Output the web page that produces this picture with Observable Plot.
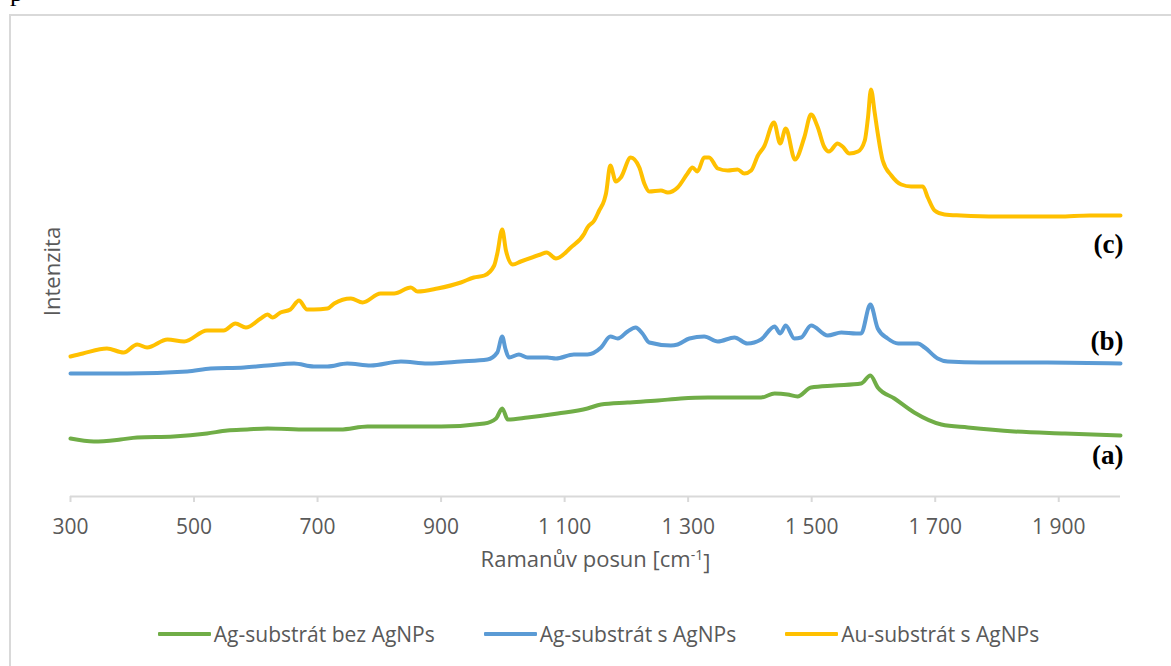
<!DOCTYPE html>
<html>
<head>
<meta charset="utf-8">
<script src="https://cdn.jsdelivr.net/npm/d3@7"></script>
<script src="https://cdn.jsdelivr.net/npm/@observablehq/plot@0.6"></script>
<style>
  html, body { margin: 0; padding: 0; background: #fff; overflow: hidden; }
  body { width: 1171px; height: 666px; position: relative; font-family: "Open Sans", sans-serif; }
  #frame { position: absolute; left: 9px; top: 14px; width: 1400px; height: 900px; border: 2px solid #d9d9d9; box-sizing: border-box; }
  #pchar { position: absolute; left: 10px; top: -20px; font-family: "Liberation Serif", serif; font-size: 26px; color: #000; line-height: 26px; }
  #chart { position: absolute; left: 0; top: 0; }
  #legend { position: absolute; left: 0; top: 620px; width: 1171px; padding-left: 26px; box-sizing: border-box;
            display: flex; justify-content: center; align-items: center; gap: 49px;
            font-size: 21px; color: #595959; line-height: 28px; }
  .item { display: flex; align-items: center; white-space: nowrap; }
  .sw { display: inline-block; width: 53px; height: 4px; margin-right: 3px; border-radius: 1px; }
</style>
</head>
<body>
<div id="pchar">p</div>
<div id="frame"></div>
<div id="chart"></div>
<div id="legend"></div>
<script>
// ---- data ----
const seriesNames = ["Ag-substrát bez AgNPs", "Ag-substrát s AgNPs", "Au-substrát s AgNPs"];
const seriesColors = ["#70ad47", "#5b9bd5", "#ffc000"];

// (a) Ag-substrát bez AgNPs
const shiftA = [300,338,381,408,467,521,554,586,619,683,737,781,845,900,970,989,999,1008,1040,1089,1137,1159,1202,1251,1288,1332,1375,1418,1440,1461,1477,1499,1537,1580,1595,1607,1634,1666,1710,1753,1828,1910,2000];
const intensA = [58,55,57,59,60,63,66,67,68,67,67,70,70,70,73,78,88,77,79,83,88,92,94,96,98,99,99,99,103,102,100,109,111,113,121,109,98,84,72,69,65,63,61];

// (b) Ag-substrát s AgNPs
const shiftB = [300,392,489,527,581,619,662,694,716,748,786,835,878,932,975,991,999,1004,1010,1026,1040,1072,1086,1115,1137,1159,1174,1186,1202,1215,1226,1237,1272,1283,1302,1326,1348,1375,1396,1418,1440,1449,1458,1472,1483,1499,1526,1548,1572,1580,1595,1607,1623,1640,1672,1683,1704,1720,1774,1882,2000];
const intensB = [123,123,125,128,129,131,133,130,130,133,131,135,133,135,137,144,160,148,139,142,139,139,138,142,142,149,160,158,165,169,163,154,151,152,158,160,155,159,153,157,170,163,171,158,159,171,161,164,163,163,192,168,158,153,153,149,138,135,134,134,133];

// (c) Au-substrát s AgNPs
const shiftC = [300,320,359,386,408,424,457,484,521,548,567,584,608,619,627,640,656,670,683,694,716,727,754,773,802,824,851,862,894,932,953,970,986,991,999,1005,1016,1029,1061,1071,1086,1110,1132,1137,1148,1156,1164,1167,1174,1183,1191,1207,1221,1229,1237,1256,1267,1283,1299,1307,1315,1326,1334,1348,1364,1380,1391,1402,1413,1423,1439,1449,1458,1473,1488,1499,1510,1520,1528,1542,1550,1561,1575,1586,1591,1596,1602,1607,1615,1629,1645,1661,1680,1688,1699,1715,1742,1800,1850,1900,1950,2000];
const intensC = [140,143,148,144,152,149,157,155,166,166,173,169,178,182,179,184,187,196,187,187,188,193,198,194,203,203,209,205,208,214,219,221,231,243,267,246,232,235,242,244,238,249,263,269,276,286,296,303,331,315,319,339,329,313,305,306,304,309,323,329,325,339,339,328,326,327,323,326,341,350,374,353,368,337,359,382,369,350,345,353,350,343,345,356,378,407,384,363,336,321,312,310,310,299,286,282,281,280,280,280,281,281];

const xTicks = [300, 500, 700, 900, 1100, 1300, 1500, 1700, 1900];
const tickLabels = ["300", "500", "700", "900", "1 100", "1 300", "1 500", "1 700", "1 900"];

const xLabelMain = "Ramanův posun [cm";
const xLabelSup = "-1";
const xLabelEnd = "]";
const yLabel = "Intenzita";

const annotLabels = ["(a)", "(b)", "(c)"];
const annotX = [2000, 2000, 2000];
const annotY = [41, 155, 252];

// ---- table ----
const shifts = [shiftA, shiftB, shiftC];
const intens = [intensA, intensB, intensC];
const table = [];
seriesNames.forEach((name, s) => {
  shifts[s].forEach((w, i) => table.push({series: name, shift: w, intensity: intens[s][i]}));
});

const xLabelFull = xLabelMain + xLabelSup + xLabelEnd;

const plot = Plot.plot({
  width: 1171,
  height: 590,
  marginLeft: 70,
  marginRight: 51,
  marginTop: 36,
  marginBottom: 94,
  x: {domain: [300, 2000]},
  y: {domain: [0, 460], axis: null},
  color: {domain: seriesNames, range: seriesColors},
  style: {fontFamily: "Open Sans", fontSize: "21px", color: "#595959", background: "transparent", overflow: "visible"},
  marks: [
    Plot.ruleY([0], {stroke: "#d9d9d9", strokeWidth: 2}),
    Plot.axisX({ticks: xTicks, tickFormat: d => tickLabels[xTicks.indexOf(d)], tickSize: 6, tickPadding: 17,
                stroke: "#d9d9d9", strokeWidth: 2, label: null}),
    Plot.line(table, {x: "shift", y: "intensity", z: "series", stroke: "series", strokeWidth: 4,
                      curve: "monotone-x", strokeLinejoin: "round", strokeLinecap: "round"}),
    Plot.text([yLabel], {text: d => d, frameAnchor: "left", textAnchor: "middle", rotate: -90, dx: -18, dy: 5,
                         fontSize: 22, fill: "#595959"}),
    Plot.text([xLabelFull], {text: d => d, frameAnchor: "bottom", textAnchor: "middle", dy: 70, fontSize: 22, fill: "#595959"}),
    Plot.text(annotLabels, {x: annotX, y: annotY, text: d => d, textAnchor: "end", dx: 3,
                            fontFamily: "Liberation Serif", fontWeight: "bold", fontSize: 27, fill: "#000"})
  ]
});
document.getElementById("chart").appendChild(plot);

// superscript in x label
d3.select(plot).selectAll("text").filter(function() { return this.textContent === xLabelFull; })
  .each(function() {
    const t = d3.select(this);
    t.text(null);
    t.append("tspan").text(xLabelMain);
    t.append("tspan").attr("dy", "-0.45em").attr("font-size", "14px").text(xLabelSup);
    t.append("tspan").attr("dy", "0.45em").text(xLabelEnd);
  });

// legend
const legend = d3.select("#legend");
seriesNames.forEach((name, i) => {
  const it = legend.append("div").attr("class", "item");
  it.append("span").attr("class", "sw").style("background", seriesColors[i]);
  it.append("span").text(name);
});
</script>
</body>
</html>
